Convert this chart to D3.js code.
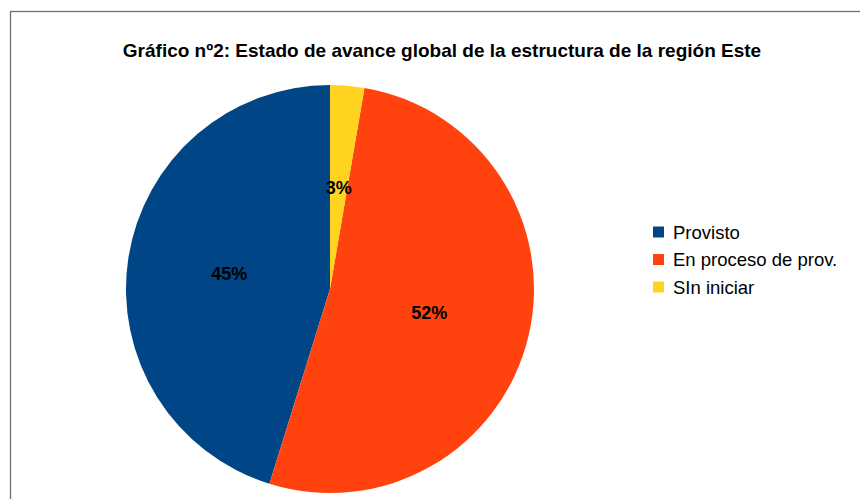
<!DOCTYPE html>
<html>
<head>
<meta charset="utf-8">
<script src="https://cdn.jsdelivr.net/npm/d3@7"></script>
<style>
  body { margin: 0; background: #fff; }
  svg { display: block; font-family: "Liberation Sans", Arial, sans-serif; }
</style>
</head>
<body>
<div id="chart"></div>
<script>
// Data
const categories = ["Provisto", "En proceso de prov.", "SIn iniciar"]
const values = [45.2, 52.1, 2.7]
const labels = ["45%", "52%", "3%"]
const colors = ["#004586", "#ff420e", "#ffd320"]
const title = "Gráfico nº2: Estado de avance global de la estructura de la región Este"

let width = 860
let height = 499

const svg = d3.select("#chart")
    .append("svg")
    .attr("width", width)
    .attr("height", height)

// Frame
svg.append("rect")
    .attr("x", 10.5)
    .attr("y", 11.5)
    .attr("width", 900)
    .attr("height", 600)
    .attr("fill", "#fff")
    .attr("stroke", "#6f6f6f")
    .attr("stroke-width", 1.3)

// Title
svg.append("text")
    .attr("x", 442)
    .attr("y", 57)
    .attr("text-anchor", "middle")
    .attr("font-weight", "bold")
    .attr("font-size", "19px")
    .text(title)

// Pie (drawn counterclockwise from 12 o'clock)
let cx = 330, cy = 289, r = 204
const data = categories.map((c, i) => ({name: c, value: values[i], label: labels[i], color: colors[i]}))

const pie = d3.pie()
    .value(d => d.value)
    .sort(null)
    .startAngle(2 * Math.PI)
    .endAngle(0)

const arc = d3.arc().innerRadius(0).outerRadius(r)
const labelArc = d3.arc().innerRadius(r / 2).outerRadius(r / 2)

const g = svg.append("g").attr("transform", `translate(${cx}, ${cy})`)

g.selectAll("path")
    .data(pie(data))
    .enter()
    .append("path")
    .attr("d", arc)
    .attr("fill", d => d.data.color)

g.selectAll("text")
    .data(pie(data))
    .enter()
    .append("text")
    .attr("transform", d => `translate(${labelArc.centroid(d)})`)
    .attr("text-anchor", "middle")
    .attr("dy", "0.35em")
    .attr("font-weight", "bold")
    .attr("font-size", "18px")
    .text(d => d.data.label)

// Legend
const legend = svg.append("g").attr("transform", "translate(653, 232)")
const rows = legend.selectAll("g")
    .data(data)
    .enter()
    .append("g")
    .attr("transform", (d, i) => `translate(0, ${i * 27.5})`)

rows.append("rect")
    .attr("x", 0)
    .attr("y", -5.5)
    .attr("width", 11)
    .attr("height", 11)
    .attr("fill", d => d.color)

rows.append("text")
    .attr("x", 20)
    .attr("dy", "0.36em")
    .attr("font-size", "18.5px")
    .text(d => d.name)
</script>
</body>
</html>
